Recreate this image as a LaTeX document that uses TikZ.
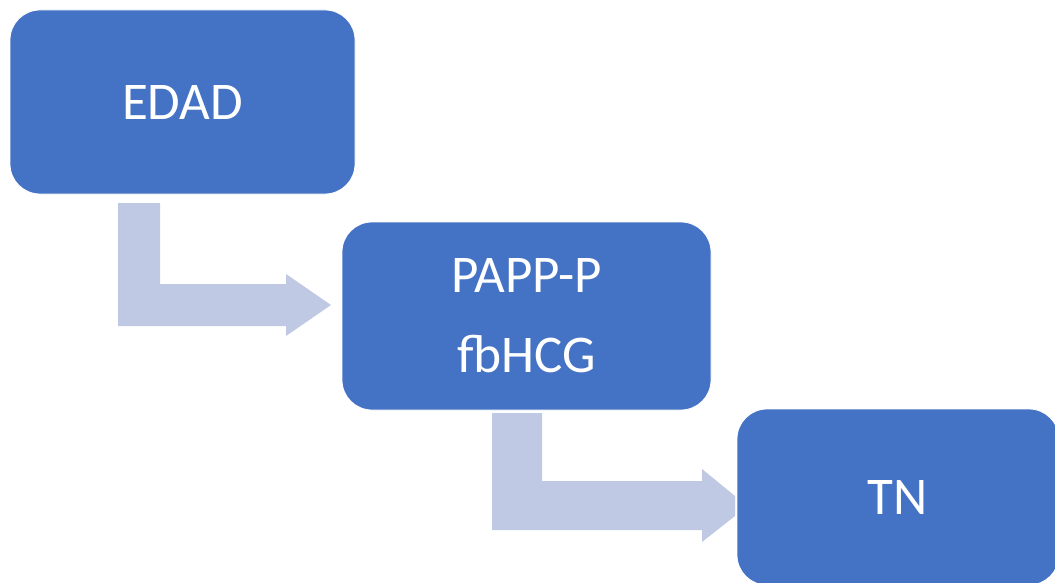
\documentclass[tikz,border=0pt]{standalone}
\usepackage{fontspec}
\setmainfont{Carlito}
\definecolor{boxblue}{HTML}{4472C4}
\definecolor{arrowblue}{HTML}{BFC9E4}
\tikzset{
  stepbox/.style={rectangle, rounded corners=30pt, fill=boxblue, draw=white,
    line width=0.8pt, inner sep=0pt, text=white, align=center,
    font=\fontsize{53}{80}\selectfont},
  bentarrow/.style={fill=arrowblue, draw=none}
}
\begin{document}
\begin{tikzpicture}[x=1pt,y=-1pt]
      \useasboundingbox (0,0) rectangle (1055,583);
      \clip (0,0) rectangle (1055,583);
      % bent arrows
      \begin{scope}
        \fill[bentarrow] (118,203) -- (160,203) -- (160,284) -- (286,284)
          -- (286,274) -- (331,305) -- (286,336) -- (286,326) -- (118,326) -- cycle;
        \fill[bentarrow] (492,413) -- (542,413) -- (542,481) -- (702,481)
          -- (702,469) -- (735,496) -- (735,516) -- (702,542) -- (702,530) -- (492,530) -- cycle;
      \end{scope}
      % boxes
      \draw
        (182.5,102) node[stepbox, minimum width=345pt, minimum height=184pt] (edad){EDAD}
        (526.5,316) node[stepbox, minimum width=369pt, minimum height=188pt] (papp){PAPP-P\\fbHCG}
        (898,497) node[stepbox, minimum width=322pt, minimum height=176pt] (tn){TN};
    \end{tikzpicture}
\end{document}
